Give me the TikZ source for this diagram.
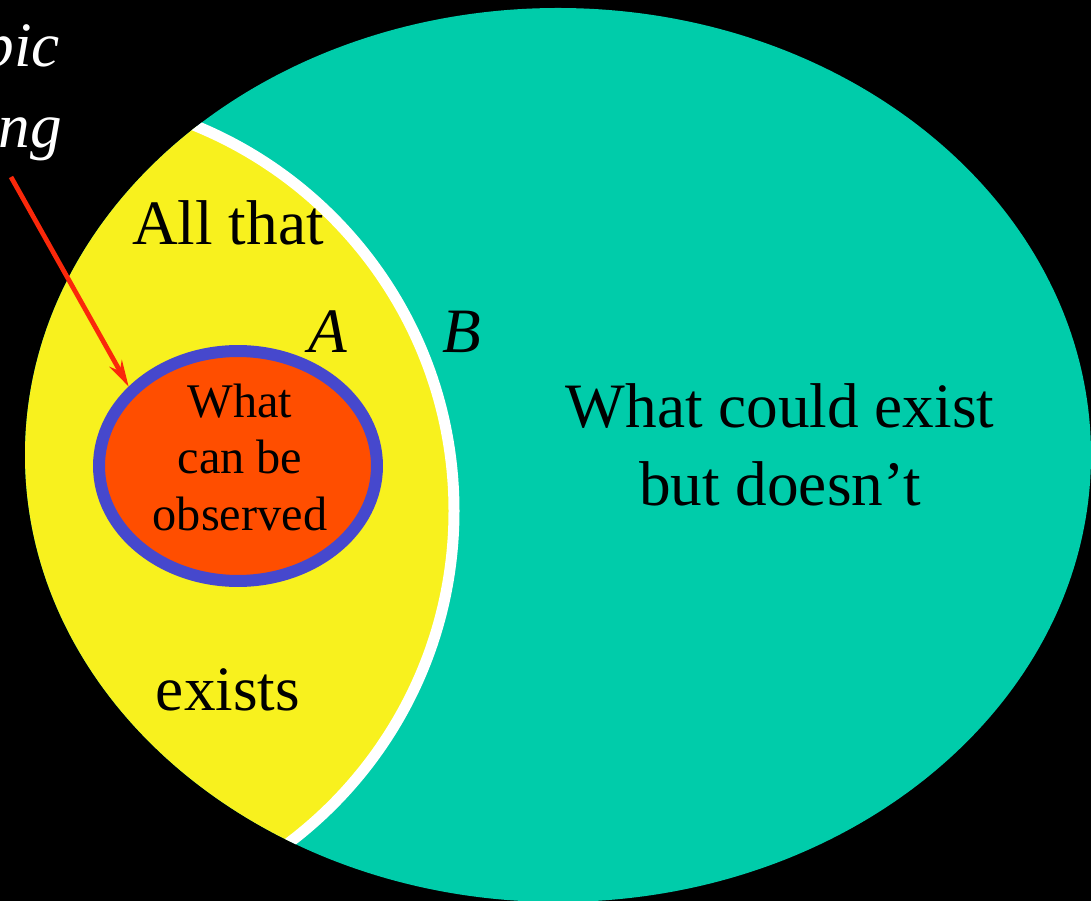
\documentclass[tikz,border=0pt]{standalone}
\usepackage{fontspec}
\setmainfont{Liberation Serif}
\usepackage{xcolor}
\usetikzlibrary{arrows.meta,positioning,shapes.geometric}
\definecolor{seagreen}{RGB}{0,204,170}
\definecolor{lemon}{RGB}{248,241,30}
\definecolor{ember}{RGB}{255,78,0}
\definecolor{rim}{RGB}{70,72,205}
\definecolor{arrowred}{RGB}{250,40,10}
\tikzset{
    bigtext/.style={
        font=\fontsize{36}{44}\selectfont,
        align=center,
        inner sep=0pt
    },
    marktext/.style={
        font=\fontsize{36}{44}\selectfont\itshape,
        inner sep=0pt
    },
    cuttext/.style={
        font=\fontsize{36}{46}\selectfont\itshape,
        text=white,
        inner sep=0pt
    },
    observedbox/.style={
        ellipse,
        draw=rim,
        fill=ember,
        line width=0.24cm,
        minimum width=5.56cm,
        minimum height=4.6cm,
        inner sep=0pt
    },
    observedtext/.style={
        align=center,
        inner sep=0pt,
        font=\fontsize{27.5}{32}\selectfont
    },
    pointer/.style={
        -{Stealth[length=15pt,width=8pt]},
        line width=2.7pt,
        draw=arrowred
    }
}
\begin{document}
\begin{tikzpicture}[x=0.02cm,y=-0.02cm]
    \useasboundingbox (0,0) rectangle (1091,901);
    \fill[black] (0,0) rectangle (1091,901);

    \fill[seagreen] (558,455) ellipse [x radius=533, y radius=447];
    \begin{scope}
        \clip (558,455) ellipse [x radius=533, y radius=447];
        \fill[lemon] (38,511) circle [radius=416];
        \draw[white, line width=0.22cm] (38,511) circle [radius=416];
    \end{scope}

    \node[observedbox] (obs) at (238,466) {};
    \node[observedtext, anchor=base] (obstext) at (240,530) {What\\can be\\observed};

    \node[bigtext, anchor=base] (allthat) at (228,245) {All that};
    \node[bigtext, anchor=base] (exists) at (228,710) {exists};
    \node[bigtext, anchor=base] (could) at (780,505) {What could exist\\but doesn’t};
    \node[marktext, anchor=base] (markA) at (328,353) {A};
    \node[marktext, anchor=base] (markB) at (462,353) {B};

    \node[cuttext, anchor=base east] (pic) at (60,67) {pic};
    \node[cuttext, anchor=base east] (ng) at (62,148) {ng};

    \coordinate (tail) at (11,177);
    \draw[pointer] (tail) -- (obs.144);
\end{tikzpicture}
\end{document}
